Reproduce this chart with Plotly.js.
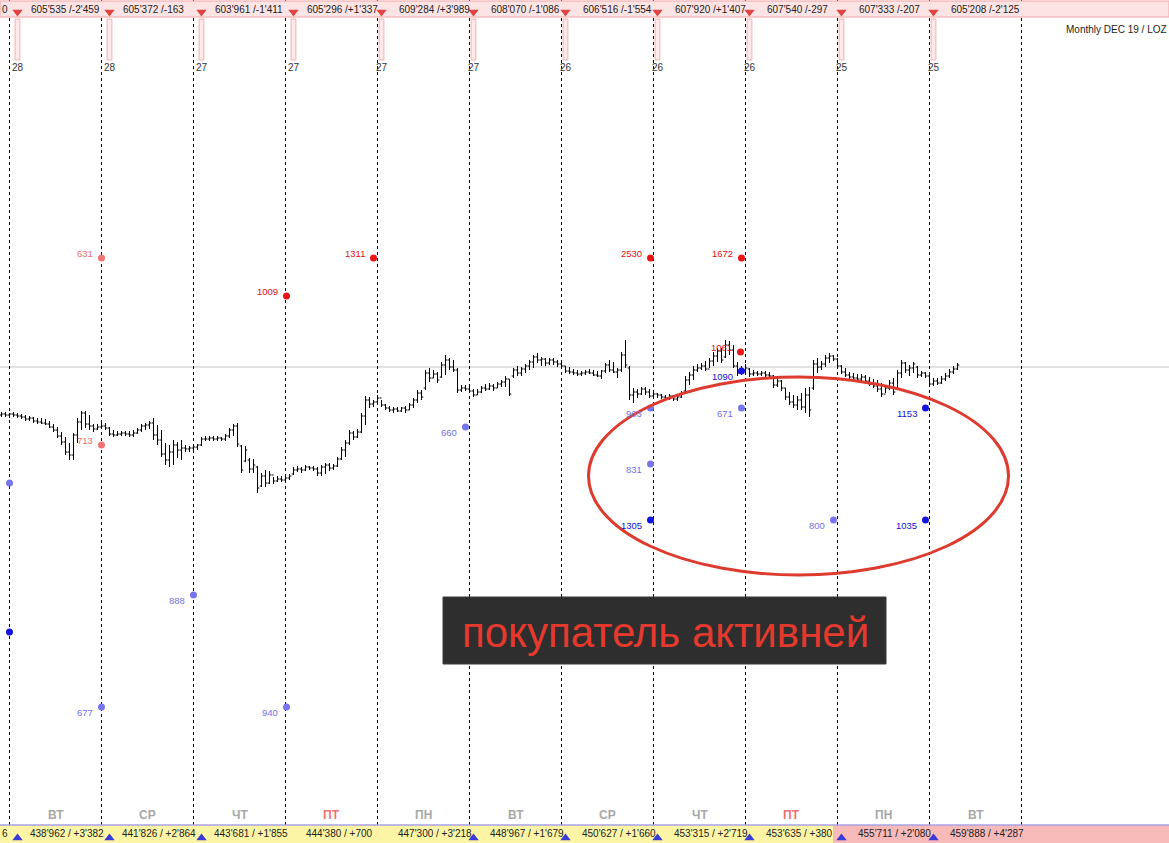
<!DOCTYPE html>
<html><head><meta charset="utf-8">
<script src="https://cdn.plot.ly/plotly-3.0.1.min.js"></script>
<style>html,body{margin:0;padding:0;background:#fff;overflow:hidden}#chart{width:1169px;height:843px}</style>
</head><body><div id="chart"></div>
<script>
// ---------- DATA (price values in chart units; bar index = one 4px bar) ----------
const opens = [
585,586,585,586,585,584,583,581,582,579,
578,577,576,573,570,564,558,548,545,565,
578,587,576,574,571,573,574,572,566,565,
566,567,566,565,567,570,574,575,577,565,
560,546,540,548,555,550,552,551,552,553,
555,561,561,562,561,562,561,564,570,574,
554,539,540,531,533,514,524,517,525,519,
521,520,522,526,530,531,530,533,532,531,
527,533,535,532,534,541,550,557,567,563,
568,584,600,596,598,602,595,592,590,591,
589,592,590,595,600,607,612,627,622,626,
623,635,640,633,630,610,612,611,609,605,
608,612,611,614,612,616,618,621,624,630,
627,631,634,638,643,640,641,637,640,638,
636,634,629,628,627,626,627,628,627,625,
624,629,635,630,628,630,645,632,605,608,
606,611,608,604,606,605,603,602,604,601,
603,609,620,625,630,632,634,631,639,644,
649,643,655,650,634,627,630,631,626,627,
626,627,625,624,615,619,612,603,598,595,
600,593,605,612,636,633,636,642,644,641,
634,628,625,623,622,621,623,619,616,614,
611,606,612,617,611,627,637,630,632,633,
625,627,624,616,619,617,621,624,628,631];
const highs = [
588,588,587,588,587,586,585,584,583,582,
582,581,579,576,573,568,563,557,567,582,
589,589,585,576,576,577,577,573,570,569,
569,569,569,570,572,576,577,579,582,575,
570,557,555,560,558,560,555,554,555,556,
563,564,564,564,564,563,566,572,576,577,
555,554,542,541,534,527,530,529,523,524,
524,524,526,533,534,533,535,534,534,533,
535,537,537,536,543,553,560,570,569,571,
587,604,603,600,605,600,596,594,593,593,
593,594,597,602,610,610,630,632,630,628,
638,645,642,640,632,615,615,615,611,611,
614,616,617,616,618,620,624,621,632,634,
633,636,640,645,647,643,642,642,642,640,
639,634,633,631,630,629,630,631,630,629,
630,637,640,638,632,648,660,634,612,611,
613,613,611,609,607,606,605,606,605,605,
609,624,628,634,636,637,639,642,648,652,
652,660,659,655,638,634,636,632,630,629,
629,629,628,625,622,620,612,608,605,604,
607,612,613,640,642,639,645,647,645,642,
635,632,628,627,626,626,625,623,621,620,
617,615,620,622,630,640,638,635,638,634,
629,628,627,622,622,624,627,631,634,637];
const lows = [
583,583,582,583,582,581,579,579,577,576,
576,575,572,568,562,555,545,540,540,557,
570,572,570,568,570,571,570,564,563,564,
564,564,563,563,566,568,570,571,560,555,
543,535,533,535,542,540,548,548,549,550,
554,559,559,559,559,559,559,562,564,553,
527,538,527,527,507,513,513,516,516,518,
518,519,520,525,528,527,529,530,529,524,
524,526,529,530,533,540,543,555,560,562,
567,575,592,593,595,593,590,588,587,588,
588,587,590,592,597,600,610,618,622,617,
622,625,630,628,607,608,609,607,603,605,
607,609,610,609,612,613,613,604,622,624,
624,627,630,632,637,634,634,635,635,633,
632,627,626,625,624,624,625,626,624,623,
621,627,628,627,622,628,632,600,597,602,
605,605,602,602,602,601,600,600,599,599,
602,608,615,620,628,630,629,632,634,638,
637,642,645,632,624,625,628,623,624,624,
624,623,622,612,613,609,600,595,592,590,
590,587,583,610,627,630,633,637,639,632,
626,623,621,620,619,619,617,614,612,608,
603,607,610,605,611,622,627,624,627,622,
623,622,614,614,615,616,619,622,626,630];
const closes = [
586,585,586,585,584,583,581,582,579,578,
577,576,573,570,564,558,548,545,565,578,
587,576,574,571,573,574,572,566,565,566,
567,566,565,567,570,574,575,577,565,560,
546,540,548,555,550,552,551,552,553,555,
561,561,562,561,562,561,564,570,574,556,
530,550,531,535,512,524,517,525,519,521,
520,522,524,530,531,530,533,532,531,527,
533,535,532,534,541,550,557,567,563,568,
584,600,596,598,602,595,592,590,591,589,
592,590,595,600,607,603,627,622,626,620,
635,640,633,630,610,612,611,609,605,608,
612,611,614,612,616,618,621,606,630,627,
631,634,638,643,640,641,637,640,638,636,
634,629,628,627,626,627,628,627,625,624,
629,635,630,628,630,645,635,605,608,606,
611,608,604,606,605,603,602,604,601,603,
607,620,625,630,632,634,631,639,644,649,
640,655,650,634,627,630,632,626,627,626,
627,625,624,615,619,612,603,598,595,600,
593,605,590,636,633,636,642,644,641,634,
628,625,623,622,621,623,619,616,614,611,
606,612,617,608,627,637,630,632,636,625,
627,624,616,619,617,621,624,628,631,635];

const lastPrice = 633;                      // grey current-price level
const dayStarts = [2,25,48,71,94,117,140,163,186,209,232,255];
const dayNames  = ['ВТ','СР','ЧТ','ПТ','ПН','ВТ','СР','ЧТ','ПТ','ПН','ВТ'];
const topLabels = ["605'535 /-2'459","605'372 /-163","603'961 /-1'411","605'296 /+1'337","609'284 /+3'989",
                   "608'070 /-1'086","606'516 /-1'554","607'920 /+1'407","607'540 /-297","607'333 /-207","605'208 /-2'125"];
const bottomLabels = ["438'962 / +3'382","441'826 / +2'864","443'681 / +1'855","444'380 / +700","447'300 / +3'218",
                   "448'967 / +1'679","450'627 / +1'660","453'315 / +2'719","453'635 / +380","455'711 / +2'080","459'888 / +4'287"];
const dayCounts = ['28','28','27','27','27','27','26','26','26','25','25'];
const markerIdx = [4,27,50,73,95,118,141,164,187,210,233];
const bottomArrowIdx = [4,27,50,118,141,164,187,210,233];

// level dots
const sellStrongX = [71.25,93,162.25,185,184.75];
const sellStrongY = [704,742,742,742,648];
const sellStrongT = ['1009','1311','2530','1672','1061'];
const sellWeakX = [25,25];
const sellWeakY = [742,555];
const sellWeakT = ['631','713'];
const buyStrongX = [2,185,162.25,231,231];
const buyStrongY = [368,629,480,480,592];
const buyStrongT = ['','1090','1305','1035','1153'];
const buyWeakX = [2,25,48,71.25,116,162.25,162.25,185,208];
const buyWeakY = [517,293,405,293,573,592,536,592,480];
const buyWeakT = ['','677','888','940','660','903','831','671','800'];

const ellipseX = [146.75, 251.75];
const ellipseY = [425, 623];
const calloutText = 'покупатель активней';
const cornerText = 'Monthly DEC 19 / LOZ';

// ---------- helpers for layout decoration (pixel -> axis units) ----------
const W = 1169, H = 843;
const px2x = px => px/4 - 0.375;
const py2y = py => 1000 - py;
const FONT = 'Liberation Sans, Arial, sans-serif';

const idx = opens.map((_, i) => i);

const traces = [
  {type:'ohlc', x:idx, open:opens, high:highs, low:lows, close:closes,
   increasing:{line:{color:'#000',width:1}}, decreasing:{line:{color:'#000',width:1}},
   tickwidth:0.45, hoverinfo:'skip', showlegend:false},
];
function dots(x,y,color){
  return {type:'scatter', mode:'markers', x:x, y:y, marker:{size:7,color:color,line:{width:0}},
          hoverinfo:'skip', showlegend:false, cliponaxis:false};
}
traces.push(dots(sellStrongX, sellStrongY, '#ec1414'));
traces.push(dots(sellWeakX, sellWeakY, '#f27474'));
traces.push(dots(buyStrongX, buyStrongY, '#1414e0'));
traces.push(dots(buyWeakX, buyWeakY, '#7676f0'));
// top red arrows / bottom blue arrows
traces.push({type:'scatter', mode:'markers', x:markerIdx, y:markerIdx.map(()=>py2y(12)),
  marker:{symbol:'triangle-down', size:9, color:'#e04444'}, hoverinfo:'skip', showlegend:false, cliponaxis:false});
traces.push({type:'scatter', mode:'markers', x:bottomArrowIdx, y:bottomArrowIdx.map(()=>py2y(838)),
  marker:{symbol:'triangle-up', size:9, color:'#3a3ad6'}, hoverinfo:'skip', showlegend:false, cliponaxis:false});

const XL = px2x(0), XR = px2x(W);
const shapes = [];
shapes.push({type:'line', xref:'x', yref:'y', x0:XL, x1:XR, y0:lastPrice, y1:lastPrice,
  line:{color:'#c4c4c4', width:1}, layer:'below'});
dayStarts.forEach(d => shapes.push({type:'line', xref:'x', yref:'y', x0:d, x1:d, y0:py2y(843), y1:py2y(0),
  line:{color:'#000', width:1, dash:'3px,3px'}, layer:'below'}));
// top strip
shapes.push({type:'rect', xref:'x', yref:'y', x0:XL, x1:XR, y0:py2y(17), y1:py2y(1),
  fillcolor:'#fde4e4', line:{color:'#f0a4a4', width:1}, layer:'below'});
markerIdx.forEach(m => shapes.push({type:'rect', xref:'x', yref:'y', x0:m-0.6, x1:m+0.6, y0:py2y(60), y1:py2y(19),
  fillcolor:'#fdeaea', line:{color:'#f2b0b0', width:1}, layer:'below'}));
// bottom strip
shapes.push({type:'rect', xref:'x', yref:'y', x0:XL, x1:px2x(833), y0:py2y(843), y1:py2y(825),
  fillcolor:'#fdf5a6', line:{width:0}, layer:'below'});
shapes.push({type:'rect', xref:'x', yref:'y', x0:px2x(833), x1:XR, y0:py2y(843), y1:py2y(825),
  fillcolor:'#f8b9b9', line:{width:0}, layer:'below'});
shapes.push({type:'line', xref:'x', yref:'y', x0:XL, x1:XR, y0:py2y(825), y1:py2y(825),
  line:{color:'#a9a0e6', width:1.5}, layer:'below'});
// ellipse and callout
shapes.push({type:'circle', xref:'x', yref:'y', x0:ellipseX[0], x1:ellipseX[1], y0:ellipseY[0], y1:ellipseY[1],
  line:{color:'#dd3b2f', width:3}, layer:'above'});
shapes.push({type:'rect', xref:'x', yref:'y', x0:px2x(443), x1:px2x(886), y0:py2y(664), y1:py2y(597),
  fillcolor:'#2e2e2e', line:{color:'#3a3a3a', width:1}, layer:'above'});

const ann = [];
function txt(x, y, text, opts){
  return Object.assign({x:x, y:y, xref:'x', yref:'y', text:text, showarrow:false,
    font:{family:FONT, size:10, color:'#222'}, xanchor:'left', yanchor:'middle'}, opts||{});
}
topLabels.forEach((t,i) => ann.push(txt(dayStarts[i]+4.75, py2y(9), t)));
bottomLabels.forEach((t,i) => ann.push(txt(dayStarts[i]+4.5, py2y(833), t)));
ann.push({xref:'paper', yref:'y', x:0, y:py2y(9), text:'0', showarrow:false, xanchor:'left', yanchor:'middle',
  font:{family:FONT, size:10, color:'#222'}});
ann.push({xref:'paper', yref:'y', x:0, y:py2y(833), text:'6', showarrow:false, xanchor:'left', yanchor:'middle',
  font:{family:FONT, size:10, color:'#222'}});
dayNames.forEach((t,i) => ann.push(txt(dayStarts[i]+11.5, py2y(815), t,
  {xanchor:'center', font:{family:FONT, size:12, color: t==='ПТ' ? '#f07070' : '#a8a8a8', weight:'bold'}})));
dayCounts.forEach((t,i) => ann.push(txt(markerIdx[i], py2y(67), t,
  {xanchor:'center', font:{family:FONT, size:10, color:'#333'}})));
function labels(xs, ys, ts, color, shift){
  ts.forEach((t,i) => { if(t) ann.push(txt(xs[i], ys[i], t,
    {xanchor:'right', xshift:-7, yshift:shift, font:{family:FONT, size:9.5, color:color}})); });
}
labels(sellStrongX, sellStrongY, sellStrongT, '#e01010', 5);
labels(sellWeakX, sellWeakY, sellWeakT, '#f07070', 5);
labels(buyStrongX, buyStrongY, buyStrongT, '#1010d0', -5);
labels(buyWeakX, buyWeakY, buyWeakT, '#7070e6', -5);
ann.push({xref:'paper', yref:'paper', x:1064/W, y:1-30/H, text:cornerText, showarrow:false,
  xanchor:'left', yanchor:'middle', font:{family:FONT, size:10, color:'#222'}});
ann.push(txt(px2x(665), py2y(632), calloutText,
  {xanchor:'center', font:{family:FONT, size:42, color:'#e5392e'}}));

const layout = {
  width:W, height:H, margin:{l:0,r:0,t:0,b:0,pad:0},
  paper_bgcolor:'#fff', plot_bgcolor:'#fff', showlegend:false,
  xaxis:{range:[-0.375, 291.875], visible:false, rangeslider:{visible:false}, fixedrange:true},
  yaxis:{range:[157,1000], visible:false, fixedrange:true},
  shapes:shapes, annotations:ann
};
Plotly.newPlot('chart', traces, layout, {staticPlot:true, displayModeBar:false});
</script></body></html>
